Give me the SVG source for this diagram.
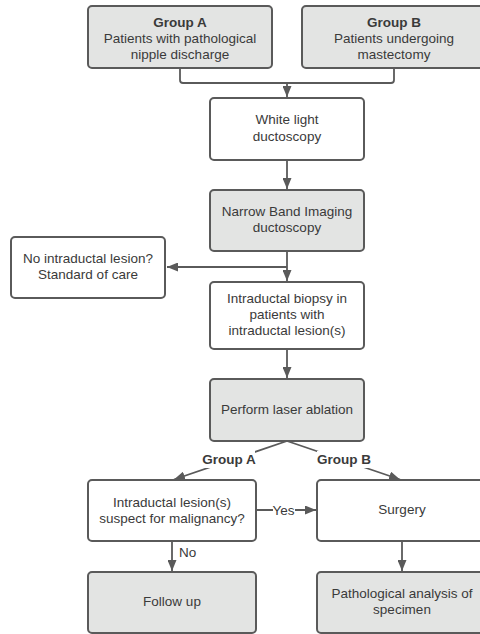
<svg xmlns="http://www.w3.org/2000/svg" width="480" height="634" viewBox="0 0 480 634">
<style>
.box{stroke:#5a5a5a;stroke-width:2}
.g{fill:#e3e4e3}
.w{fill:#ffffff}
text{font-family:"Liberation Sans",Arial,sans-serif;font-size:13.5px;fill:#3a3a3a;text-anchor:middle}
.b{font-weight:bold}
.c{fill:none;stroke:#5a5a5a;stroke-width:1.8;stroke-linejoin:round}
.bg{fill:#ffffff}
</style>
<defs>
<marker id="ah2" viewBox="0 0 11 9" refX="11" refY="4.5" markerWidth="11" markerHeight="9" markerUnits="userSpaceOnUse" orient="auto">
<path d="M0,0 L11,4.5 L0,9 Z" fill="#5a5a5a"/>
</marker>
</defs>
<rect width="480" height="634" fill="#ffffff"/>
<g id="connectors">
<path class="c" d="M180,68 V80 Q180,83 183,83 H391 Q394,83 394,80 V68"/>
<path class="c" d="M287,83 V97" marker-end="url(#ah2)"/>
<path class="c" d="M287,160 V189" marker-end="url(#ah2)"/>
<path class="c" d="M287,251 V281" marker-end="url(#ah2)"/>
<path class="c" d="M287,267 H167" marker-end="url(#ah2)"/>
<path class="c" d="M287,349 V378" marker-end="url(#ah2)"/>
<path class="c" d="M287,441 L174,479.5" marker-end="url(#ah2)"/>
<path class="c" d="M287,441 L400,479.5" marker-end="url(#ah2)"/>
<path class="c" d="M256,510 H316" marker-end="url(#ah2)"/>
<path class="c" d="M172,541 V571" marker-end="url(#ah2)"/>
<path class="c" d="M402,541 V571" marker-end="url(#ah2)"/>
<rect class="bg" x="203" y="451" width="52" height="17"/>
<text class="b" x="229" y="463.5">Group A</text>
<rect class="bg" x="317" y="451" width="54" height="17"/>
<text class="b" x="344" y="463.5">Group B</text>
<rect class="bg" x="273" y="502" width="22" height="16"/>
<text x="283.5" y="514.5">Yes</text>
<text x="179" y="556.5" style="text-anchor:start">No</text>
</g>
<g id="groupA">
<rect class="box g" x="88" y="6" width="184" height="62" rx="4"/>
<text class="b" x="180" y="27">Group A</text>
<text x="180" y="43">Patients with pathological</text>
<text x="180" y="59">nipple discharge</text>
</g>
<g id="groupB">
<rect class="box g" x="302" y="6" width="184" height="62" rx="4"/>
<text class="b" x="394" y="27">Group B</text>
<text x="394" y="43">Patients undergoing</text>
<text x="394" y="59">mastectomy</text>
</g>
<g id="whiteLight">
<rect class="box w" x="210" y="98" width="154" height="62" rx="4"/>
<text x="287" y="124">White light</text>
<text x="287" y="140.5">ductoscopy</text>
</g>
<g id="nbi">
<rect class="box g" x="210" y="190" width="154" height="61" rx="4"/>
<text x="287" y="215.5">Narrow Band Imaging</text>
<text x="287" y="231.5">ductoscopy</text>
</g>
<g id="standardCare">
<rect class="box w" x="11" y="237" width="154" height="61" rx="4"/>
<text x="88" y="262.5">No intraductal lesion?</text>
<text x="88" y="279">Standard of care</text>
</g>
<g id="biopsy">
<rect class="box w" x="210" y="282" width="154" height="67" rx="4"/>
<text x="287" y="302.5">Intraductal biopsy in</text>
<text x="287" y="318.5">patients with</text>
<text x="287" y="334.5">intraductal lesion(s)</text>
</g>
<g id="laser">
<rect class="box g" x="210" y="379" width="154" height="62" rx="4"/>
<text x="287" y="413.5">Perform laser ablation</text>
</g>
<g id="suspect">
<rect class="box w" x="88" y="480" width="168" height="61" rx="4"/>
<text x="172" y="506.5">Intraductal lesion(s)</text>
<text x="172" y="522.5">suspect for malignancy?</text>
</g>
<g id="surgery">
<rect class="box w" x="317" y="480" width="170" height="61" rx="4"/>
<text x="402" y="513.5">Surgery</text>
</g>
<g id="followUp">
<rect class="box g" x="88" y="572" width="168" height="61" rx="4"/>
<text x="172" y="605.5">Follow up</text>
</g>
<g id="pathology">
<rect class="box g" x="317" y="572" width="170" height="61" rx="4"/>
<text x="402" y="597.5">Pathological analysis of</text>
<text x="402" y="613.5">specimen</text>
</g>
</svg>
